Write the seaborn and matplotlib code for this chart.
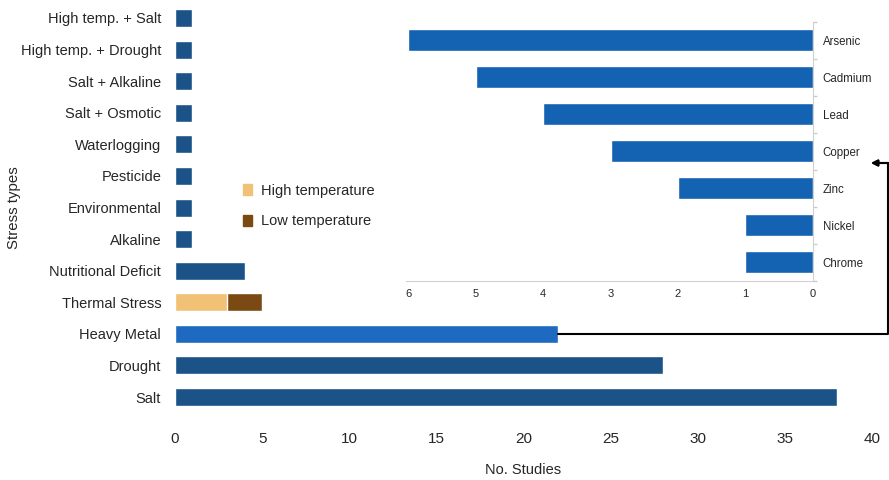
import matplotlib
matplotlib.use("Agg")
import matplotlib.pyplot as plt
import seaborn as sns
import pandas as pd
from matplotlib.lines import Line2D
from matplotlib.patches import Patch

# ---------------- data ----------------
stress_types = ["High temp. + Salt", "High temp. + Drought", "Salt + Alkaline",
                "Salt + Osmotic", "Waterlogging", "Pesticide", "Environmental",
                "Alkaline", "Nutritional Deficit", "Thermal Stress", "Heavy Metal",
                "Drought", "Salt"]
n_studies = [1, 1, 1, 1, 1, 1, 1, 1, 4, 5, 22, 28, 38]
high_temp = [0, 0, 0, 0, 0, 0, 0, 0, 0, 3, 0, 0, 0]   # part of Thermal Stress
low_temp = [0, 0, 0, 0, 0, 0, 0, 0, 0, 2, 0, 0, 0]

metals = ["Arsenic", "Cadmium", "Lead", "Copper", "Zinc", "Nickel", "Chrome"]
metal_studies = [6, 5, 4, 3, 2, 1, 1]

x_ticks = [0, 5, 10, 15, 20, 25, 30, 35, 40]
inset_ticks = [6, 5, 4, 3, 2, 1, 0]

# ---------------- style ----------------
sns.set_theme(style="white")
plt.rcParams["font.family"] = ["Liberation Sans", "DejaVu Sans"]

DARK = "#1B5288"
HEAVY = "#1D6AC0"
INSET = "#1462B2"
TAN = "#F1C275"
BROWN = "#7A4A12"
TXT = "#262626"

palette = {c: DARK for c in stress_types}
palette["Heavy Metal"] = HEAVY
palette["Thermal Stress"] = BROWN

df = pd.DataFrame({"type": stress_types, "n": n_studies, "high": high_temp})

fig = plt.figure(figsize=(8.89, 4.80), dpi=100)
ax = fig.add_axes([0.1969, 0.14, 0.784, 0.8554])

sns.barplot(data=df, y="type", x="n", hue="type", palette=palette, order=stress_types,
            orient="h", width=0.57, legend=False, ax=ax, saturation=1, dodge=False)
df_hi = df[df["high"] > 0]
sns.barplot(data=df_hi, y="type", x="high", color=TAN, order=stress_types,
            orient="h", width=0.57, ax=ax, saturation=1)

ax.set_xlim(0, 40)
ax.set_ylim(12.5, -0.5)
ax.set_xticks(x_ticks)
ax.set_xticklabels([str(t) for t in x_ticks], fontsize=11, color=TXT)
ax.tick_params(axis="x", pad=14, length=0)
ax.tick_params(axis="y", labelsize=10.5, labelcolor=TXT, length=0, pad=10)
ax.set_xlabel("No. Studies", fontsize=10.5, color=TXT, labelpad=12)
ax.set_ylabel("Stress types", fontsize=10.8, color=TXT)
ax.yaxis.set_label_coords((21 - 175) / 697, 0.5)
for s in ax.spines.values():
    s.set_visible(False)

leg = ax.legend(handles=[Patch(color=TAN, label="High temperature"),
                         Patch(color=BROWN, label="Low temperature")],
                loc="upper left", bbox_to_anchor=(0.079, 0.59), frameon=False,
                fontsize=10.5, handlelength=0.6, handleheight=0.8, handletextpad=0.6,
                labelspacing=1.15, labelcolor=TXT)

# ---------------- inset ----------------
ax2 = fig.add_axes([0.4567, 0.4156, 0.4578, 0.5396])
dfm = pd.DataFrame({"metal": metals, "n": metal_studies})
sns.barplot(data=dfm, y="metal", x="n", color=INSET, order=metals, orient="h",
            width=0.6, ax=ax2, saturation=1)
ax2.set_xlim(6.03, 0)
ax2.set_ylim(6.5, -0.5)
ax2.set_xticks(inset_ticks)
ax2.set_xticklabels([str(t) for t in inset_ticks], fontsize=8, color=TXT)
ax2.yaxis.tick_right()
ax2.set_yticks(range(len(metals)))
ax2.set_yticklabels(metals, fontsize=8.3, color=TXT)
ax2.set_yticks([i + 0.5 for i in range(-1, len(metals))], minor=True)
ax2.tick_params(axis="y", which="major", length=0, pad=7)
ax2.tick_params(axis="y", which="minor", length=3, color="#cccccc", right=True, left=False)
ax2.tick_params(axis="x", length=0, pad=6)
ax2.set_xlabel("")
ax2.set_ylabel("")
ax2.patch.set_alpha(0)
for k in ("top", "left"):
    ax2.spines[k].set_visible(False)
for k in ("right", "bottom"):
    ax2.spines[k].set_color("#d0d0d0")
    ax2.spines[k].set_linewidth(0.8)

# ---------------- connector arrow ----------------
x_end = 888 / 889
y1 = 1 - 163 / 480
hm_idx = stress_types.index("Heavy Metal")
start_disp = ax.transData.transform((n_studies[hm_idx], hm_idx))
start_fig = fig.transFigure.inverted().transform(start_disp)
fig.add_artist(Line2D([start_fig[0], x_end, x_end], [start_fig[1], start_fig[1], y1],
                      transform=fig.transFigure, color="black", lw=1.5))
fig.add_artist(plt.annotate("", xy=(871 / 889, y1), xytext=(x_end + 0.0008, y1),
                            xycoords="figure fraction", textcoords="figure fraction",
                            arrowprops=dict(arrowstyle="-|>", color="black", lw=1.5,
                                            mutation_scale=9, shrinkA=0, shrinkB=0)))

fig.savefig("out.png", dpi=100)
